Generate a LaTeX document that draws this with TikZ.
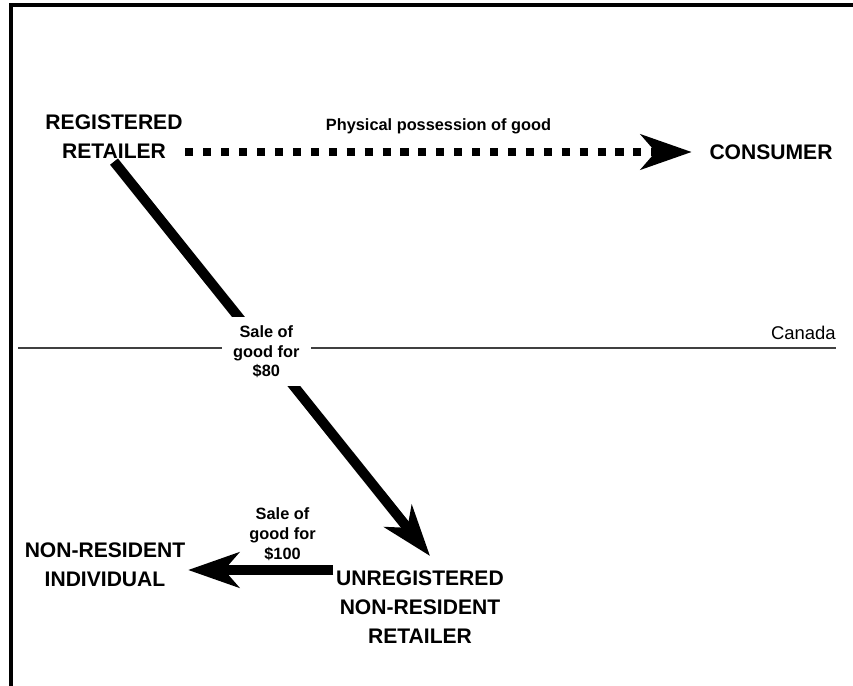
\documentclass[tikz,border=0pt]{standalone}
\usepackage{fontspec}
\setsansfont{Liberation Sans}
\usepackage{tikz}
\usetikzlibrary{
  arrows.meta,
  positioning,  % Function "of" (e.g. [right=of x])
  calc,         % Calculations $...$
}
\tikzset{
  font=\sffamily,
  semithick,
  >=stealth,
  my party/.style={
    align=center,
    inner sep=0.5mm,
    font=\sffamily\bfseries\fontsize{12}{16.4}\selectfont
  },
  my label/.style={
    align=center,
    inner sep=0.5mm,
    font=\sffamily\bfseries\fontsize{9.3}{11.3}\selectfont
  },
  my country/.style={
    inner sep=0pt,
    font=\sffamily\fontsize{10.5}{12}\selectfont
  },
  big tip/.style={
    -{Stealth[length=29pt,width=20pt,inset=8.5pt]}
  },
  big arrow/.style={
    line width=5.7pt,
    big tip
  },
  dotted arrow/.style={
    line width=4.6pt,
    dash pattern=on 4.6pt off 5.6pt,
    big tip
  },
  frame line/.style={
    line width=1.8pt
  },
  border line/.style={
    line width=0.85pt,
    draw=black!75
  }
}
\begin{document}
\begin{tikzpicture}[x=0.02cm,y=-0.02cm]
\useasboundingbox (0,0) rectangle (853,686);
\draw[frame line] (853,5) -- (11,5) -- (11,686);
% parties
\node[my party] (reg)    at (114,137) {REGISTERED\\RETAILER};
\node[my party] (cons)   at (771,152) {CONSUMER};
\node[my party] (nonres) at (105,565) {NON-RESIDENT\\INDIVIDUAL};
\node[my party] (unreg)  at (420,607) {UNREGISTERED\\NON-RESIDENT\\RETAILER};
% the border
\coordinate (cw) at (18,348);
\coordinate (ce) at (836,348);
\draw[border line] (cw) -- (ce);
\node[my country,anchor=south east] (canada) at ([yshift=0.16cm]ce) {Canada};
% flows
\draw[dotted arrow] (reg.east |- cons.west) -- ([xshift=-0.3cm]cons.west)
    node[my label,midway,above=6.5pt] (phys) {Physical possession of good};
\draw[big arrow] (reg.south) -- ([xshift=0.2cm,yshift=0.24cm]unreg.north)
    node[my label,fill=white,inner xsep=6.5pt,inner ysep=4.5pt,pos=0.482] (sale80)
    {Sale of\\good for\\\$80};
\coordinate (tip100) at ([yshift=-0.1cm]nonres.east);
\draw[big arrow] (unreg.west |- tip100) -- (tip100)
    node[my label,above=1pt,pos=0.35] (sale100) {Sale of\\good for\\\$100};
\end{tikzpicture}
\end{document}
